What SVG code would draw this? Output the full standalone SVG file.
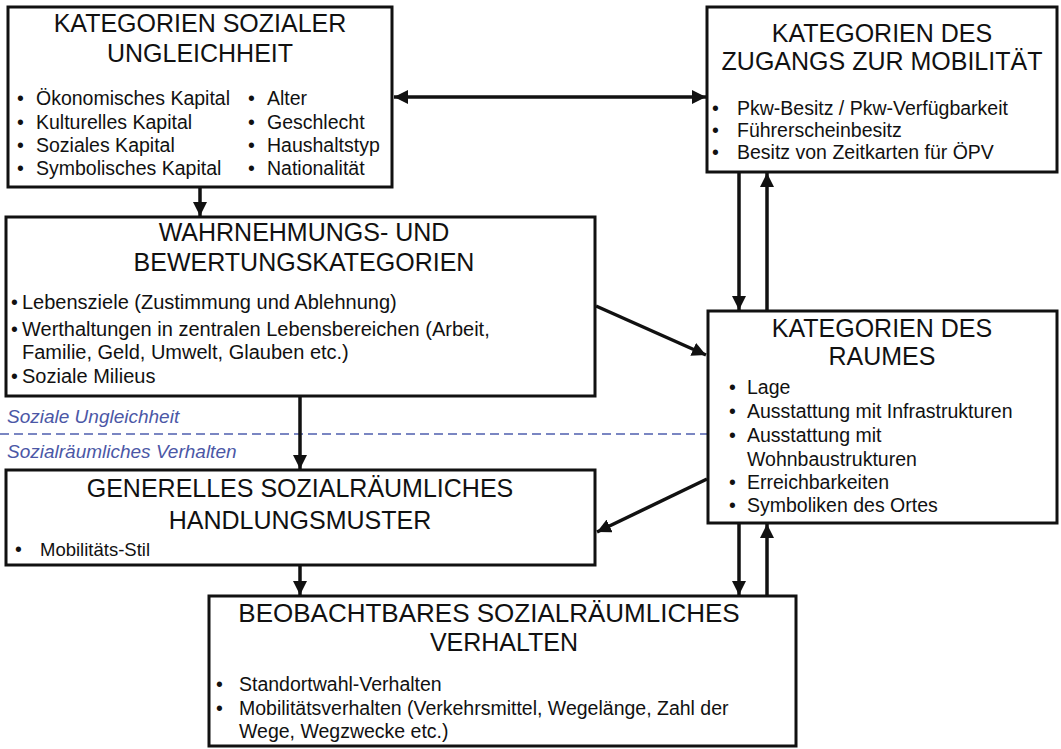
<svg xmlns="http://www.w3.org/2000/svg" width="1061" height="749" viewBox="0 0 1061 749">
<style>
.box{fill:#ffffff;stroke:#111111;stroke-width:3}
.t{font-family:"Liberation Sans",Arial,sans-serif;font-size:25px;fill:#111111;text-anchor:middle}
.b{font-family:"Liberation Sans",Arial,sans-serif;font-size:19.5px;fill:#111111}
.lab{font-family:"Liberation Sans",Arial,sans-serif;font-size:19px;font-style:italic;fill:#4b57a6}
.con{stroke:#111111;stroke-width:3.5;fill:none}
</style>
<defs>
<marker id="ah" markerUnits="userSpaceOnUse" markerWidth="16" markerHeight="14" refX="14" refY="7" orient="auto-start-reverse">
<path d="M0,0 L14,7 L0,14 Z" fill="#111111"/>
</marker>
</defs>
<rect width="1061" height="749" fill="#ffffff"/>

<g id="divider">
<line x1="0" y1="434" x2="707" y2="434" stroke="#4f5fae" stroke-width="1.5" stroke-dasharray="9 5"/>
<text class="lab" x="7" y="423">Soziale Ungleichheit</text>
<text class="lab" x="7" y="458">Sozialräumliches Verhalten</text>
</g>

<g id="connectors">
<line class="con" x1="200" y1="188" x2="200" y2="216" marker-end="url(#ah)"/>
<line class="con" x1="394" y1="97" x2="706" y2="97" marker-start="url(#ah)" marker-end="url(#ah)"/>
<line class="con" x1="739" y1="173" x2="739" y2="310" marker-end="url(#ah)"/>
<line class="con" x1="767" y1="310" x2="767" y2="173" marker-end="url(#ah)"/>
<line class="con" x1="596" y1="306" x2="706" y2="355" marker-end="url(#ah)"/>
<line class="con" x1="300" y1="397" x2="300" y2="469" marker-end="url(#ah)"/>
<line class="con" x1="707" y1="479" x2="597" y2="532" marker-end="url(#ah)"/>
<line class="con" x1="300" y1="566" x2="300" y2="595" marker-end="url(#ah)"/>
<line class="con" x1="739" y1="524" x2="739" y2="595" marker-end="url(#ah)"/>
<line class="con" x1="767" y1="595" x2="767" y2="524" marker-end="url(#ah)"/>
</g>

<g id="n-ungleichheit">
<rect class="box" x="8" y="7" width="384" height="180"/>
<text class="t" x="200" y="32">KATEGORIEN SOZIALER</text>
<text class="t" x="200" y="62">UNGLEICHHEIT</text>
<text class="b" x="17" y="105">•</text><text class="b" x="36" y="105">Ökonomisches Kapital</text>
<text class="b" x="17" y="129">•</text><text class="b" x="36" y="129">Kulturelles Kapital</text>
<text class="b" x="17" y="152">•</text><text class="b" x="36" y="152">Soziales Kapital</text>
<text class="b" x="17" y="175">•</text><text class="b" x="36" y="175">Symbolisches Kapital</text>
<text class="b" x="248" y="105">•</text><text class="b" x="267" y="105">Alter</text>
<text class="b" x="248" y="129">•</text><text class="b" x="267" y="129">Geschlecht</text>
<text class="b" x="248" y="152">•</text><text class="b" x="267" y="152">Haushaltstyp</text>
<text class="b" x="248" y="175">•</text><text class="b" x="267" y="175">Nationalität</text>
</g>

<g id="n-zugang">
<rect class="box" x="707" y="7" width="350" height="165"/>
<text class="t" x="882" y="42">KATEGORIEN DES</text>
<text class="t" x="882" y="70">ZUGANGS ZUR MOBILITÄT</text>
<text class="b" x="712" y="115">•</text><text class="b" x="737" y="115">Pkw-Besitz / Pkw-Verfügbarkeit</text>
<text class="b" x="712" y="137">•</text><text class="b" x="737" y="137">Führerscheinbesitz</text>
<text class="b" x="712" y="159">•</text><text class="b" x="737" y="159">Besitz von Zeitkarten für ÖPV</text>
</g>

<g id="n-wahrnehmung">
<rect class="box" x="6" y="217" width="589" height="179"/>
<text class="t" x="304" y="241">WAHRNEHMUNGS- UND</text>
<text class="t" x="304" y="271">BEWERTUNGSKATEGORIEN</text>
<text class="b" x="11" y="309">•</text><text class="b" x="22" y="309" style="font-size:20px">Lebensziele (Zustimmung und Ablehnung)</text>
<text class="b" x="11" y="336">•</text><text class="b" x="22" y="336" style="font-size:20px">Werthaltungen in zentralen Lebensbereichen (Arbeit,</text>
<text class="b" x="22" y="359" style="font-size:20px">Familie, Geld, Umwelt, Glauben etc.)</text>
<text class="b" x="11" y="383">•</text><text class="b" x="22" y="383" style="font-size:20px">Soziale Milieus</text>
</g>

<g id="n-raum">
<rect class="box" x="708" y="311" width="349" height="212"/>
<text class="t" x="882" y="337">KATEGORIEN DES</text>
<text class="t" x="882" y="365">RAUMES</text>
<text class="b" x="729" y="394">•</text><text class="b" x="747" y="394">Lage</text>
<text class="b" x="729" y="418">•</text><text class="b" x="747" y="418">Ausstattung mit Infrastrukturen</text>
<text class="b" x="729" y="442">•</text><text class="b" x="747" y="442">Ausstattung mit</text>
<text class="b" x="747" y="466">Wohnbaustrukturen</text>
<text class="b" x="729" y="489">•</text><text class="b" x="747" y="489">Erreichbarkeiten</text>
<text class="b" x="729" y="512">•</text><text class="b" x="747" y="512">Symboliken des Ortes</text>
</g>

<g id="n-handlungsmuster">
<rect class="box" x="6" y="470" width="589" height="95"/>
<text class="t" x="300" y="497">GENERELLES SOZIALRÄUMLICHES</text>
<text class="t" x="300" y="529">HANDLUNGSMUSTER</text>
<text class="b" x="15" y="556">•</text><text class="b" x="40" y="556" style="font-size:18.5px">Mobilitäts-Stil</text>
</g>

<g id="n-verhalten">
<rect class="box" x="209" y="596" width="587" height="150"/>
<text class="t" x="489" y="622" style="font-size:26px">BEOBACHTBARES SOZIALRÄUMLICHES</text>
<text class="t" x="504" y="651">VERHALTEN</text>
<text class="b" x="216" y="691">•</text><text class="b" x="239" y="691">Standortwahl-Verhalten</text>
<text class="b" x="216" y="715">•</text><text class="b" x="239" y="715">Mobilitätsverhalten (Verkehrsmittel, Wegelänge, Zahl der</text>
<text class="b" x="239" y="738">Wege, Wegzwecke etc.)</text>
</g>
</svg>
